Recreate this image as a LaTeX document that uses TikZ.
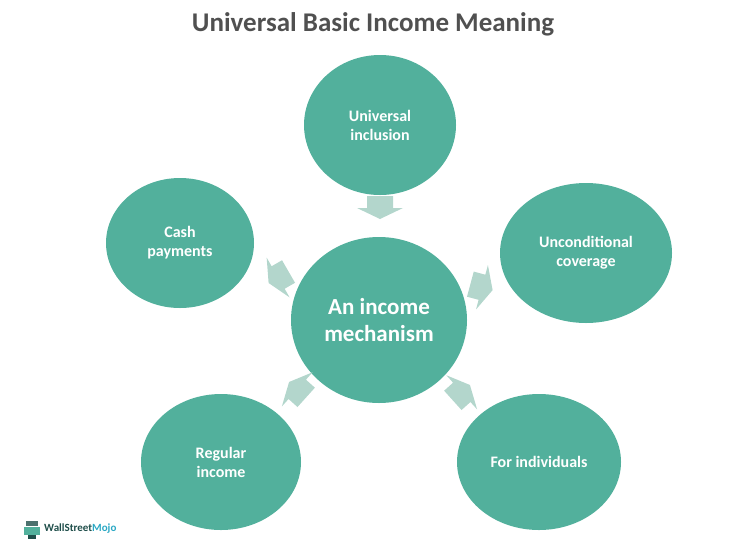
\documentclass[tikz,border=0pt]{standalone}
\usepackage{fontspec}
\setmainfont{Carlito}
\usetikzlibrary{shapes.geometric}
\definecolor{teal1}{HTML}{52B09C}
\definecolor{arr}{HTML}{B3D6CC}
\definecolor{ttl}{HTML}{505050}
\definecolor{wsm}{HTML}{1F4E4A}
\definecolor{mojo}{HTML}{2AA8C4}
\begin{document}
\begin{tikzpicture}[x=1pt,y=-1pt,
  bub/.style={ellipse,fill=teal1,text=white,font=\bfseries\fontsize{16}{19}\selectfont,align=center,inner sep=0pt},
  blockarr/.style={fill=arr}]
\useasboundingbox (0,0) rectangle (746,555);
\node[ttl,font=\bfseries\fontsize{27}{32}\selectfont] (title) at (373,24) {Universal Basic Income Meaning};
\node[bub,minimum width=176,minimum height=166,font=\bfseries\fontsize{23}{27}\selectfont] (c) at (379,320) {An income\\mechanism};
\node[bub,minimum width=152,minimum height=140] (t) at (380,125) {Universal\\inclusion};
\node[bub,minimum width=172,minimum height=140] (r) at (586,253) {Unconditional\\coverage};
\node[bub,minimum width=164,minimum height=136] (br) at (539,462) {For individuals};
\node[bub,minimum width=160,minimum height=136] (bl) at (221,462) {Regular\\income};
\node[bub,minimum width=148,minimum height=130] (l) at (180,243) {Cash\\payments};
\foreach \px/\py/\a in {380/207/90,279/277/150,481/287/15,298/390/222,461/393/318}{
  \begin{scope}[shift={(\px,\py)},rotate=-\a]
    \fill[blockarr] (-11,-13) -- (1,-13) -- (1,-23) -- (12,0) -- (1,23) -- (1,13) -- (-11,13) -- cycle;
  \end{scope}
}
\node[font=\bfseries\fontsize{11}{13}\selectfont,anchor=west,inner sep=0] (logo) at (44,529) {\textcolor{wsm}{WallStreet}\textcolor{mojo}{Mojo}};
\fill[wsm!80] (26,521) rectangle (38,526);
\fill[teal1] (24,527) rectangle (40,535);
\fill[wsm] (28,535) rectangle (36,539);
\end{tikzpicture}
\end{document}
